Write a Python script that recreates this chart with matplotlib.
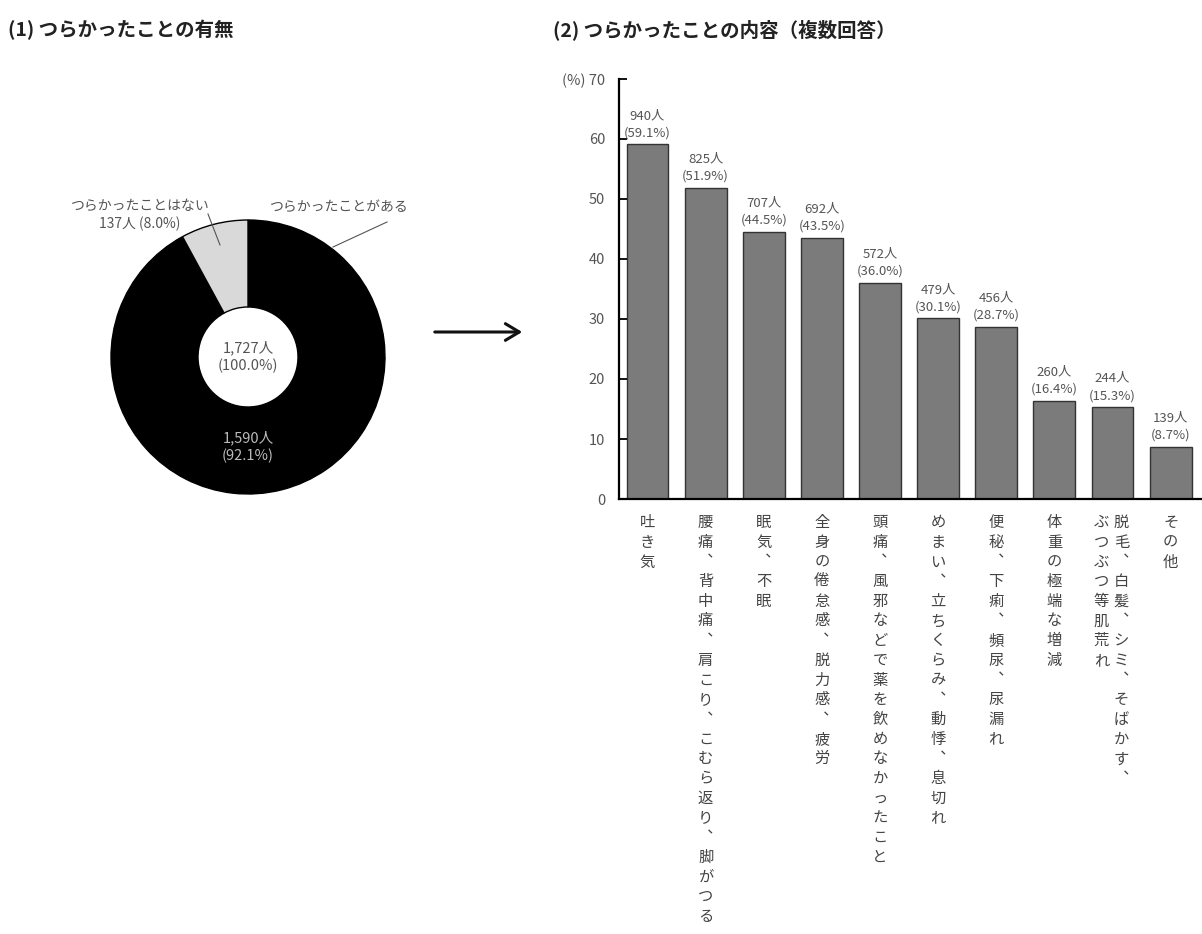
import matplotlib
matplotlib.use("Agg")
import matplotlib.pyplot as plt
from matplotlib.lines import Line2D

plt.rcParams['font.family'] = ['Noto Sans CJK JP', 'DejaVu Sans']

# ---- data ----
pie_labels = ["つらかったことがある", "つらかったことはない"]
pie_counts = [1590, 137]
pie_pcts = [92.1, 8.0]
total_count = 1727

bar_categories = [
    "吐き気",
    "腰痛、背中痛、肩こり、こむら返り、脚がつる",
    "眠気、不眠",
    "全身の倦怠感、脱力感、疲労",
    "頭痛、風邪などで薬を飲めなかったこと",
    "めまい、立ちくらみ、動悸、息切れ",
    "便秘、下痢、頻尿、尿漏れ",
    "体重の極端な増減",
    "脱毛、白髪、シミ、そばかす、|ぶつぶつ等肌荒れ",
    "その他",
]
bar_counts = [940, 825, 707, 692, 572, 479, 456, 260, 244, 139]
bar_pcts = [59.1, 51.9, 44.5, 43.5, 36.0, 30.1, 28.7, 16.4, 15.3, 8.7]
yticks = [0, 10, 20, 30, 40, 50, 60, 70]

W, H = 1202, 934
fig = plt.figure(figsize=(W / 100, H / 100), dpi=100)


def fx(x):
    return x / W


def fy(y):
    return 1 - y / H


# ---- titles ----
fig.text(fx(8), fy(30), "(1) つらかったことの有無", fontsize=14, fontweight='bold',
         color="#222222", va='center', ha='left')
fig.text(fx(553), fy(30), "(2) つらかったことの内容（複数回答）", fontsize=14, fontweight='bold',
         color="#222222", va='center', ha='left')

# ---- donut ----
cx, cy, R = 248, 357, 137
axp = fig.add_axes([fx(cx - R), fy(cy + R), 2 * R / W, 2 * R / H])
axp.pie(pie_counts, colors=["#000000", "#d9d9d9"], startangle=90, counterclock=False,
        radius=1.0, wedgeprops=dict(width=1 - 50 / 137, edgecolor="#000000", linewidth=1.0))
axp.set_xlim(-1, 1)
axp.set_ylim(-1, 1)
axp.set_aspect('auto')
axp.axis('off')

fig.text(fx(cx), fy(cy), f"{total_count:,}人\n(100.0%)", ha='center', va='center',
         fontsize=10.5, color="#555555", linespacing=1.3)
fig.text(fx(cx), fy(447), f"{pie_counts[0]:,}人\n({pie_pcts[0]:.1f}%)", ha='center', va='center',
         fontsize=10.5, color="#bbbbbb", linespacing=1.3)
fig.text(fx(140), fy(215), f"{pie_labels[1]}\n{pie_counts[1]}人 ({pie_pcts[1]:.1f}%)", ha='center',
         va='center', fontsize=10, color="#555555", linespacing=1.25)
fig.text(fx(270), fy(207), pie_labels[0], ha='left', va='center', fontsize=10, color="#555555")
fig.add_artist(Line2D([fx(208), fx(220)], [fy(214), fy(245)], color="#555555", lw=0.8))
fig.add_artist(Line2D([fx(387), fx(333)], [fy(222), fy(247)], color="#555555", lw=0.8))

# ---- arrow ----
fig.add_artist(matplotlib.patches.FancyArrowPatch(
    (fx(432), fy(332)), (fx(525), fy(332)), transform=fig.transFigure,
    arrowstyle='->,head_length=10,head_width=6', lw=2.2, color="#111111",
    mutation_scale=1))

# ---- bar chart ----
ax_left, ax_right, y0, y70 = 619, 1202, 499, 79
axb = fig.add_axes([fx(ax_left), fy(y0), (ax_right - ax_left) / W, (y0 - y70) / H])
xs = list(range(len(bar_pcts)))
axb.bar(xs, bar_pcts, width=0.72, color="#7b7b7b", edgecolor="#333333", linewidth=1.0)
axb.set_xlim(-0.49, 9.54)
axb.set_ylim(0, 70)
for s in ['top', 'right']:
    axb.spines[s].set_visible(False)
axb.spines['left'].set_linewidth(1.6)
axb.spines['bottom'].set_linewidth(1.6)
axb.set_xticks([])
axb.set_yticks(yticks)
axb.set_yticklabels([str(t) if t != 70 else "(%) 70" for t in yticks])
axb.tick_params(axis='y', direction='in', length=6, width=1.3, pad=10, labelsize=10.5,
                labelcolor="#555555")

for x, c, p in zip(xs, bar_counts, bar_pcts):
    axb.annotate(f"{c}人\n({p:.1f}%)", xy=(x, p), xytext=(0, 5), textcoords='offset pixels',
                 ha='center', va='bottom', fontsize=9.5, color="#555555", linespacing=1.45,
                 annotation_clip=False)

# vertical category labels
step = 19.7
for x, cat in zip(xs, bar_categories):
    cols = cat.split("|")
    n = len(cols)
    for ci, col in enumerate(cols):
        dx = 0 if n == 1 else (9 - ci * 20)
        for k, ch in enumerate(col):
            g = "\ufe11" if ch == "、" else ch
            axb.annotate(g, xy=(x, 0), xycoords=('data', 'axes fraction'),
                         xytext=(dx, -15 - k * step), textcoords='offset pixels',
                         ha='center', va='top', fontsize=11, color="#444444",
                         annotation_clip=False)

fig.savefig("out.png", dpi=100, facecolor='white')
